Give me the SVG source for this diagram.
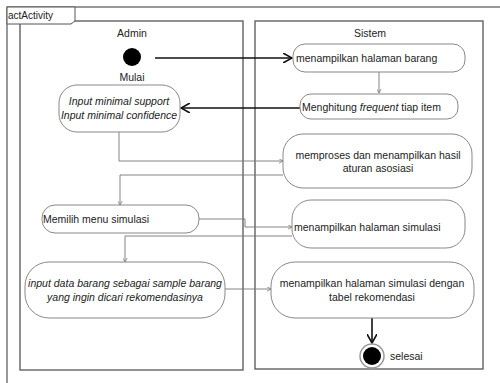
<svg xmlns="http://www.w3.org/2000/svg" width="500" height="383" viewBox="0 0 500 383">
<defs>
<style>
text{font-family:"Liberation Sans",Arial,sans-serif;font-size:10.5px;fill:#222}
.lane{fill:none;stroke:#555;stroke-width:1.3}
.node{fill:#fff;stroke:#888;stroke-width:1}
.thin{fill:none;stroke:#777;stroke-width:0.9}
.thick{fill:none;stroke:#111;stroke-width:1.6}
.it{font-style:italic}
</style>
<marker id="ah" viewBox="0 0 10 10" refX="9" refY="5" markerWidth="10" markerHeight="10" markerUnits="userSpaceOnUse" orient="auto">
<path d="M0,0 L9,5 L0,10" fill="none" stroke="#111" stroke-width="1.6"/>
</marker>
<marker id="as" viewBox="0 0 10 10" refX="9" refY="5" markerWidth="5" markerHeight="5" markerUnits="userSpaceOnUse" orient="auto">
<path d="M0,0 L9,5 L0,10" fill="none" stroke="#777" stroke-width="1.5"/>
</marker>
</defs>
<rect width="500" height="383" fill="#fff"/>
<g id="frame">
<rect x="7" y="7" width="510" height="400" fill="none" stroke="#555" stroke-width="1.2"/>
<rect class="lane" x="20" y="21" width="223" height="349"/>
<rect class="lane" x="255" y="21" width="228" height="348"/>
<path d="M7,7 H75 V21 L71,24 H7 Z" fill="#fff" stroke="#555" stroke-width="1"/>
<text x="8" y="19" style="font-size:10px">actActivity</text>
<text x="132" y="37" text-anchor="middle">Admin</text>
<text x="370" y="37" text-anchor="middle">Sistem</text>
</g>
<g id="connectors">
<line class="thick" x1="155" y1="58" x2="292" y2="58" marker-end="url(#ah)"/>
<line class="thin" x1="379" y1="72" x2="379" y2="93" marker-end="url(#as)"/>
<line class="thick" x1="300" y1="108" x2="181" y2="108" marker-end="url(#ah)"/>
<path class="thin" d="M119,132 V161 H283" marker-end="url(#as)"/>
<path class="thin" d="M283,175 H120 V205" marker-end="url(#as)"/>
<path class="thin" d="M199,219 H245 V227 H292" marker-end="url(#as)"/>
<path class="thin" d="M292,236 H125 V262" marker-end="url(#as)"/>
<path class="thin" d="M225,289 H271" marker-end="url(#as)"/>
<line class="thick" x1="372" y1="318" x2="372" y2="343" marker-end="url(#ah)"/>
</g>
<g id="start">
<circle cx="132" cy="57" r="9" fill="#000"/>
<text x="132" y="81" text-anchor="middle">Mulai</text>
</g>
<g id="n1">
<rect class="node" x="293" y="44" width="172" height="28" rx="12"/>
<text x="296" y="62">menampilkan halaman barang</text>
</g>
<g id="n2">
<rect class="node" x="300" y="94" width="158" height="25" rx="11"/>
<text x="302" y="111">Menghitung <tspan class="it">frequent</tspan> tiap item</text>
</g>
<g id="n3">
<rect class="node" x="59" y="85" width="121" height="47" rx="18"/>
<text x="119" y="105" text-anchor="middle" class="it">Input minimal support</text>
<text x="119" y="119" text-anchor="middle" class="it">Input minimal confidence</text>
</g>
<g id="n4">
<rect class="node" x="283" y="134" width="189" height="54" rx="20"/>
<text x="378" y="159" text-anchor="middle">memproses dan menampilkan hasil</text>
<text x="378" y="172" text-anchor="middle">aturan asosiasi</text>
</g>
<g id="n5">
<rect class="node" x="42" y="205" width="157" height="28" rx="13"/>
<text x="43" y="223">Memilih menu simulasi</text>
</g>
<g id="n6">
<rect class="node" x="292" y="200" width="173" height="48" rx="19"/>
<text x="294" y="231">menampilkan halaman simulasi</text>
</g>
<g id="n7">
<rect class="node" x="25" y="262" width="200" height="56" rx="24"/>
<text x="125" y="287" text-anchor="middle" class="it">input data barang sebagai sample barang</text>
<text x="125" y="301" text-anchor="middle" class="it">yang ingin dicari rekomendasinya</text>
</g>
<g id="n8">
<rect class="node" x="271" y="262" width="203" height="56" rx="24"/>
<text x="372" y="287" text-anchor="middle">menampilkan halaman simulasi dengan</text>
<text x="372" y="301" text-anchor="middle">tabel rekomendasi</text>
</g>
<g id="end">
<circle cx="372" cy="356" r="12" fill="#fff" stroke="#999" stroke-width="1.5"/>
<circle cx="372" cy="356" r="9" fill="#000"/>
<text x="390" y="360">selesai</text>
</g>
</svg>
